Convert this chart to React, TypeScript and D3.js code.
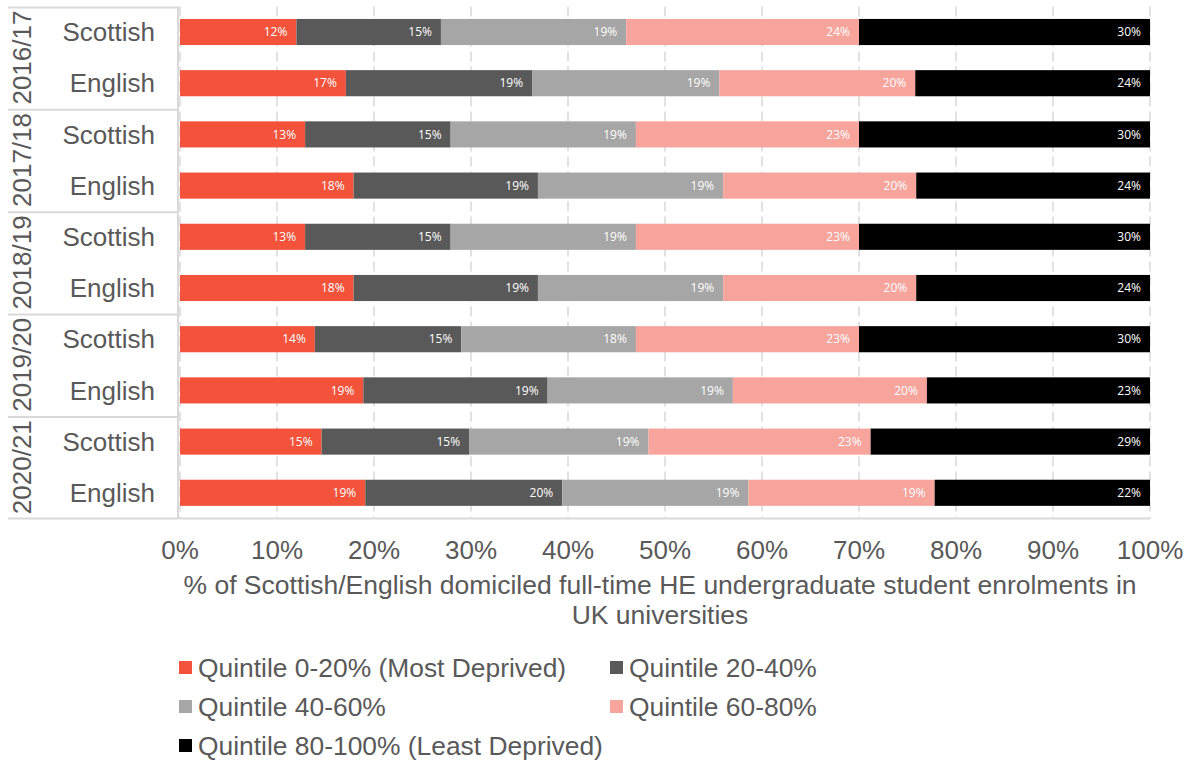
import * as d3 from "d3";

// row order: each year has a Scottish and an English bar
const years = ["2016/17", "2017/18", "2018/19", "2019/20", "2020/21"];
const nations = ["Scottish", "English"];

const q1 = [12.0, 17.1, 12.9, 17.9, 12.9, 17.9, 13.9, 18.9, 14.6, 19.1];
const q2 = [14.9, 19.2, 15.0, 19.0, 15.0, 19.0, 15.1, 19.0, 15.2, 20.3];
const q3 = [19.1, 19.3, 19.1, 19.1, 19.1, 19.1, 18.0, 19.1, 18.5, 19.2];
const q4 = [24.0, 20.2, 23.0, 19.9, 23.0, 19.9, 23.0, 20.0, 22.9, 19.2];
const q5 = [30.0, 24.2, 30.0, 24.1, 30.0, 24.1, 30.0, 23.0, 28.8, 22.2];

const seriesNames = [
  "Quintile 0-20% (Most Deprived)",
  "Quintile 20-40%",
  "Quintile 40-60%",
  "Quintile 60-80%",
  "Quintile 80-100% (Least Deprived)",
];
const colors = ["#F4533B", "#595959", "#A6A6A6", "#F7A49C", "#000000"];
const xTicks = [0, 10, 20, 30, 40, 50, 60, 70, 80, 90, 100];

const W = 1194;
const H = 762;
const PLOT = { left: 180, right: 1150, top: 6.4, bottom: 518.4 };
const FONT = "'Liberation Sans', Arial, sans-serif";
const TEXT = "#595959";
const GRID = "#D9D9D9";

export default function App() {
  const rowKeys = years.flatMap((y) => nations.map((n) => `${y}|${n}`));
  const table = rowKeys.map((key, i) => ({
    key,
    year: key.split("|")[0],
    nation: key.split("|")[1],
    vals: [q1[i], q2[i], q3[i], q4[i], q5[i]],
  }));

  const x = d3.scaleLinear().domain([0, 100]).range([PLOT.left, PLOT.right]);
  const y = d3
    .scaleBand<string>()
    .domain(rowKeys)
    .range([PLOT.top, PLOT.bottom])
    .paddingInner(0.49)
    .paddingOuter(0.245);
  const step = y.step();
  const groupH = step * nations.length;

  return (
    <svg width={W} height={H} style={{ position: "absolute", left: 0, top: 0 }}>
      <rect width={W} height={H} fill="#fff" />

      {/* vertical gridlines */}
      {xTicks.map((t) => (
        <line
          key={"g" + t}
          x1={x(t)}
          x2={x(t)}
          y1={PLOT.top}
          y2={PLOT.bottom}
          stroke={GRID}
          strokeWidth={1.5}
          strokeDasharray="10,5"
        />
      ))}

      {/* bars */}
      {table.map((row) => {
        let acc = 0;
        return (
          <g key={row.key}>
            {row.vals.map((v, si) => {
              const x0 = acc;
              acc += v;
              const x1 = acc;
              return (
                <g key={si}>
                  <rect
                    x={x(x0)}
                    width={x(x1) - x(x0)}
                    y={y(row.key)}
                    height={y.bandwidth()}
                    fill={colors[si]}
                  />
                  <text
                    x={x(x1) - 9}
                    y={(y(row.key) as number) + y.bandwidth() / 2}
                    dy="0.35em"
                    textAnchor="end"
                    fill="#fff"
                    fontFamily="'Open Sans', sans-serif"
                    fontSize={12}
                  >
                    {Math.round(v)}%
                  </text>
                </g>
              );
            })}
          </g>
        );
      })}

      {/* category axis lines */}
      <line x1={PLOT.left - 2} x2={PLOT.left - 2} y1={PLOT.top} y2={PLOT.bottom} stroke={GRID} strokeWidth={2} />
      {years.map((yr, i) => (
        <line
          key={"s" + yr}
          x1={8}
          x2={PLOT.left - 2}
          y1={PLOT.top + i * groupH + 1}
          y2={PLOT.top + i * groupH + 1}
          stroke={GRID}
          strokeWidth={2}
        />
      ))}
      <line x1={8} x2={PLOT.right} y1={PLOT.bottom} y2={PLOT.bottom} stroke={GRID} strokeWidth={2} />

      {/* nation labels */}
      {table.map((row) => (
        <text
          key={"n" + row.key}
          x={155}
          y={(y(row.key) as number) + y.bandwidth() / 2}
          dy="0.35em"
          textAnchor="end"
          fill={TEXT}
          fontFamily={FONT}
          fontSize={26}
        >
          {row.nation}
        </text>
      ))}

      {/* year labels */}
      {years.map((yr, i) => {
        const cy = PLOT.top + i * groupH + groupH / 2;
        return (
          <text
            key={"y" + yr}
            transform={`translate(22,${cy}) rotate(-90)`}
            dy="0.35em"
            textAnchor="middle"
            fill={TEXT}
            fontFamily={FONT}
            fontSize={26}
          >
            {yr}
          </text>
        );
      })}

      {/* x tick labels */}
      {xTicks.map((t) => (
        <text
          key={"t" + t}
          x={x(t)}
          y={550}
          dy="0.35em"
          textAnchor="middle"
          fill={TEXT}
          fontFamily={FONT}
          fontSize={26}
        >
          {t}%
        </text>
      ))}

      {/* x axis title */}
      <text x={660} y={585} dy="0.35em" textAnchor="middle" fill={TEXT} fontFamily={FONT} fontSize={26.5}>
        % of Scottish/English domiciled full-time HE undergraduate student enrolments in
      </text>
      <text x={660} y={615} dy="0.35em" textAnchor="middle" fill={TEXT} fontFamily={FONT} fontSize={26.5}>
        UK universities
      </text>

      {/* legend */}
      {seriesNames.map((name, i) => {
        const col = i % 2;
        const r = Math.floor(i / 2);
        const lx = col === 0 ? 179 : 610;
        const ly = 668 + r * 39;
        return (
          <g key={"l" + i}>
            <rect x={lx} y={ly - 7} width={13} height={13} fill={colors[i]} />
            <text x={lx + 19} y={ly} dy="0.35em" fill={TEXT} fontFamily={FONT} fontSize={26.4}>
              {name}
            </text>
          </g>
        );
      })}
    </svg>
  );
}
